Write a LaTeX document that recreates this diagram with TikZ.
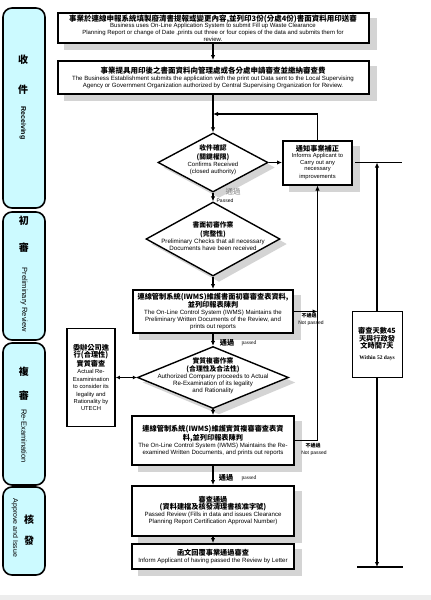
\documentclass[tikz,border=0pt]{standalone}
\usepackage{fontspec}
\setmainfont{Liberation Sans}
\newfontfamily\cjk{Noto Sans CJK TC}
\newfontfamily\tms{Liberation Serif}
\usetikzlibrary{shapes.geometric,arrows.meta,backgrounds}
\definecolor{lanecyan}{RGB}{204,250,255}
\definecolor{shadowgray}{RGB}{212,212,212}
\newcommand{\zh}[1]{{\cjk\bfseries\fontsize{7.2}{8}\selectfont #1}}
\newcommand{\zhl}[1]{{\cjk\bfseries\fontsize{7.5}{7.6}\selectfont #1}}
\newcommand{\zhd}[1]{{\cjk\bfseries\fontsize{6.8}{7.4}\selectfont #1}}
\tikzset{
  lane/.style={draw, line width=1.6pt, rounded corners=9pt, fill=lanecyan, minimum width=42pt, inner sep=0pt},
  lanezh/.style={font=\cjk\bfseries\fontsize{10}{10}\selectfont, inner sep=0pt},
  laneen/.style={rotate=-90, font=\fontsize{7}{7}\selectfont, inner sep=0pt},
  box/.style={draw, line width=2pt, fill=white, align=center, inner sep=1pt,
    font=\fontsize{6.1}{7}\selectfont},
  plainbox/.style={draw, fill=white, align=center, inner sep=1pt, font=\fontsize{5.8}{7.4}\selectfont},
  dia/.style={diamond, draw, line width=1.4pt, fill=white, inner sep=0pt},
  dtxt/.style={align=center, inner sep=0pt, font=\fontsize{6.2}{6.9}\selectfont},
  lbl/.style={inner sep=0pt, font=\fontsize{5}{5}\selectfont},
  arr/.style={line width=1.2pt, -{Latex[length=5pt,width=4.5pt]}},
  dbl/.style={line width=1.2pt, {Latex[length=4pt,width=4pt]}-{Latex[length=4pt,width=4pt]}},
  bar/.style={line width=1.2pt}
}
\begin{document}
\begin{tikzpicture}[x=1pt,y=-1pt]
\useasboundingbox (0,0) rectangle (431,600);
% faint page shadow at the bottom
\fill[black!7] (0,595) rectangle (431,600);

% Draw the four stage lanes
\node[lane, minimum height=200pt] (rcv) at (24,108) {};
\node[lane, minimum height=128pt] (pre) at (24,276) {};
\node[lane, minimum height=142pt] (rex) at (24,414) {};
\node[lane, minimum height=88pt] (apv) at (24,531) {};
\node[lanezh] (rcv1) at (23,60) {收};
\node[lanezh] (rcv2) at (23,90) {件};
\node[laneen, font=\bfseries\fontsize{7}{7}\selectfont] (rcv3) at (23,123) {Receiving};
\node[lanezh] (pre1) at (24,221) {初};
\node[lanezh] (pre2) at (24,248) {審};
\node[laneen, font=\fontsize{7.5}{7.5}\selectfont] (pre3) at (24,300) {Preliminary Review};
\node[lanezh] (rex1) at (24,372) {複};
\node[lanezh] (rex2) at (24,396) {審};
\node[laneen, font=\fontsize{7.5}{7.5}\selectfont] (rex3) at (24,436) {Re-Examination};
\node[laneen] (apv3) at (15,528) {Approve and Issue};
\node[lanezh] (apv1) at (29,520) {核};
\node[lanezh] (apv2) at (29,541) {發};

% Main flow boxes and decisions
\node[box, minimum width=311pt, minimum height=30pt, inner sep=0.5pt, font=\fontsize{6}{6.8}\selectfont] (apply) at (213,28)
  {\zhl{事業於連線申報系統填製廢清書提報或變更內容,並列印3份(分處4份)書面資料用印送審}\\
   Business uses On-Line Application System to submit Fill up Waste Clearance\\
   Planning Report or change of Date ,prints out three or four copies of the data and submits them for\\
   review.};
\node[box, minimum width=311pt, minimum height=33pt] (submit) at (213,77.5)
  {\zhl{事業提具用印後之書面資料向管理處或各分處申請審查並繳納審查費}\\
   The Business Establishment submits the application with the print out Data sent to the Local Supervising\\
   Agency or Government Organization authorized by Central Supervising Organization for Review.};
\node[dia, minimum width=110pt, minimum height=59pt] (recv) at (213,162.5) {};
\node[dtxt, font=\fontsize{6}{6.8}\selectfont] (recvt) at (213,160)
  {\zhd{收件確認}\\[2pt] \zhd{(關鍵權限)}\\[0.5pt] Confirms Received\\ (closed authority)};
\node[box, minimum width=69pt, minimum height=44pt, font=\fontsize{5.8}{6.6}\selectfont] (inform) at (317.5,162.5)
  {\zh{通知事業補正}\\ Informs Applicant to\\ Carry out any\\ necessary\\[1.5pt] improvements};
\node[dia, minimum width=134pt, minimum height=74pt] (prechk) at (213,239) {};
\node[dtxt] (prechkt) at (213,236)
  {\zhd{書面初審作業}\\[2pt] \zhd{(完整性)}\\[0.5pt] Preliminary Checks that all necessary\\ Documents have been received};
\node[box, minimum width=160pt, minimum height=43pt] (iwms1) at (213,311.5)
  {\zh{連線管制系統(IWMS)維護書面初審審查表資料,}\\ \zh{並列印報表陳判}\\
   The On-Line Control System (IWMS) Maintains the\\
   Preliminary Written Documents of the Review, and\\ prints out reports};
\node[dia, minimum width=151pt, minimum height=62pt] (actual) at (213,377.5) {};
\node[dtxt] (actualt) at (213,375.5)
  {\zhd{實質複審作業}\\[1.5pt] \zhd{(合理性及合法性)}\\[0.5pt] Authorized Company proceeds to Actual\\
   Re-Examination of its legality\\ and Rationality};
\node[plainbox, line width=1.8pt, minimum width=48pt, minimum height=98pt] (utech) at (91,377.5)
  {\zh{委辦公司進}\\ \zh{行(合理性)}\\ \zh{實質審查}\\ Actual Re-\\ Examinination\\
   to consider its\\ legality and\\ Rationality by\\ UTECH};
\node[box, minimum width=162pt, minimum height=49pt] (iwms2) at (213,440.5)
  {\zh{連線管制系統(IWMS)維護實質複審審查表資}\\ \zh{料,並列印報表陳判}\\
   The On-Line Control System (IWMS) Maintains the Re-\\
   examined Written Documents, and prints out reports};
\node[box, minimum width=162pt, minimum height=50pt] (passed) at (213,511)
  {\zh{審查通過}\\ \zh{(資料建檔及核發清理書核准字號)}\\
   Passed Review (Fills in data and issues Clearance\\
   Planning Report Certification Approval Number)};
\node[box, minimum width=162pt, minimum height=25pt] (letter) at (213,556.5)
  {\zh{函文回覆事業通過審查}\\ Inform Applicant of having passed the Review by Letter};

% grey shadows behind boxes and diamonds
\begin{scope}[on background layer]
\foreach \n in {apply,submit,inform,iwms1,iwms2,passed,letter}
  \fill[shadowgray] ([xshift=7pt,yshift=-6pt]\n.south west) rectangle ([xshift=7pt,yshift=-6pt]\n.north east);
\foreach \n in {recv,prechk,actual}
  \fill[shadowgray] ([xshift=6pt,yshift=-5pt]\n.north) -- ([xshift=6pt,yshift=-5pt]\n.east)
    -- ([xshift=6pt,yshift=-5pt]\n.south) -- ([xshift=6pt,yshift=-5pt]\n.west) -- cycle;
\end{scope}

% Time limit on the right
\node[plainbox, line width=0.8pt, minimum width=50pt, minimum height=66pt] (days) at (377,344)
  {\zh{審查天數45}\\ \zh{天與行政發}\\ \zh{文時間7天}\\[3pt] {\tms\bfseries\fontsize{5.5}{6}\selectfont Within 52 days}};
\coordinate (topl) at (355,162.5);
\coordinate (topr) at (402,162.5);
\coordinate (topm) at (377,162.5);
\coordinate (botl) at (357,567);
\coordinate (botr) at (403,567);
\coordinate (botm) at (377,567);
\coordinate (join) at (213,114);

% Connectors
\draw[arr] (apply) -- (submit);
\draw[arr] (submit) -- (recv);
\draw[arr] (inform.north) |- (join);
\draw[arr] (recv.east) -- (inform.west);
\draw[arr] (recv.south) -- (prechk.north);
\draw[arr] (prechk.south) -- (iwms1.north);
\draw[arr] (iwms1.east) -- (inform.south |- iwms1.east);
\draw[arr] (iwms1.south) -- (actual.north);
\draw[dbl] (utech.east) -- (actual.west);
\draw[arr] (actual.south) -- (iwms2.north);
\draw[arr] (iwms2.east) -| (inform.south);
\draw[arr] (iwms2.south) -- (passed.north);
\draw[arr] (passed.south) -- (letter.north);
\draw[bar] (topl) -- (topr);
\draw[bar] (botl) -- (botr);
\draw[arr] (days.north) -- (topm);
\draw[arr] (days.south) -- (botm);

% Connector labels
\node[lbl, font=\cjk\fontsize{7.5}{7.5}\selectfont, text=gray] (ok1) at (233,192) {通過};
\node[lbl] (ok1e) at (225,201) {Passed};
\node[lbl] (ok2) at (227,343) {\zh{通過}};
\node[lbl, font=\tms\fontsize{5.5}{5.5}\selectfont] (ok2e) at (249,343) {passed};
\node[lbl] (no1) at (309,316) {\zh{\fontsize{5}{5}\selectfont 不通過}};
\node[lbl] (no1e) at (311,323) {Not passed};
\node[lbl] (no2) at (313,446) {\zh{\fontsize{5}{5}\selectfont 不通過}};
\node[lbl] (no2e) at (314,453) {Not passed};
\node[lbl] (ok3) at (226,478) {\zh{通過}};
\node[lbl, font=\tms\fontsize{5.5}{5.5}\selectfont] (ok3e) at (249,478) {passed};
\end{tikzpicture}
\end{document}
